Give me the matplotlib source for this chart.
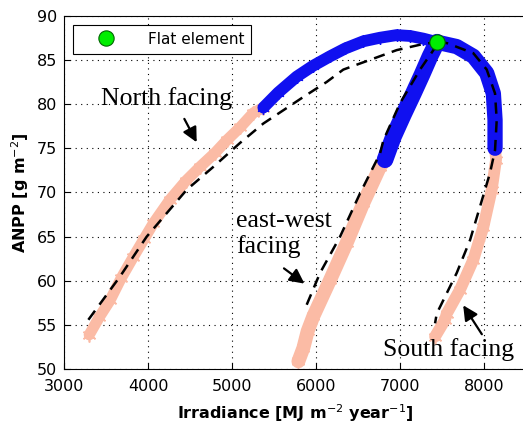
import matplotlib
matplotlib.use('Agg')
import matplotlib.pyplot as plt

# Bandas (centro de cada banda de puntos)
north_pink_x = [3300, 3420, 3548, 3680, 3825, 3950, 4063, 4262, 4450, 4619, 4800, 4937, 5100, 5254, 5373]
north_pink_y = [53.9, 55.9, 57.8, 60.3, 62.7, 64.7, 66.5, 69.2, 71.3, 72.9, 74.5, 75.9, 77.4, 79.0, 79.6]
north_blue_x = [5373, 5550, 5770, 5960, 6167, 6350, 6563, 6760, 6960, 7120, 7278, 7440]
north_blue_y = [79.6, 81.3, 83.1, 84.3, 85.4, 86.3, 87.1, 87.5, 87.8, 87.7, 87.4, 87.0]

ew_pink_x = [5790, 5849, 5900, 5968, 6167, 6365, 6563, 6762, 6830]
ew_pink_y = [50.9, 52.4, 54.3, 56.0, 60.1, 64.3, 68.8, 72.9, 73.9]
ew_blue_x = [6821, 6921, 7040, 7159, 7260, 7357, 7440]
ew_blue_y = [73.7, 76.3, 78.8, 81.2, 83.3, 85.4, 87.0]

south_blue_x = [7440, 7675, 7873, 8032, 8111, 8131, 8131]
south_blue_y = [87.0, 86.5, 85.4, 83.5, 81.2, 78.2, 75.0]
south_pink_x = [8131, 8143, 8091, 7992, 7873, 7714, 7556, 7536, 7417]
south_pink_y = [75.0, 73.7, 70.3, 66.1, 62.4, 59.0, 56.3, 55.6, 53.7]

# Curvas de ajuste (linea discontinua)
north_fit_x = [3290, 3667, 3984, 4460, 4778, 5095, 5373, 5849, 6127, 6325, 6643, 6960, 7278, 7440]
north_fit_y = [55.6, 60.5, 65.0, 70.3, 72.9, 75.6, 77.8, 80.8, 82.5, 83.9, 85.0, 86.1, 86.8, 87.0]
ew_fit_x = [5889, 6048, 6286, 6524, 6762, 6802, 7000, 7238, 7397, 7440]
ew_fit_y = [57.3, 60.9, 65.0, 69.9, 74.4, 75.9, 80.1, 83.9, 86.1, 87.0]
south_fit_x = [7440, 7556, 7873, 8032, 8131, 8151, 8131, 8071, 7952, 7833, 7675, 7556, 7437, 7417]
south_fit_y = [87.0, 86.9, 85.75, 83.9, 81.2, 78.2, 74.8, 72.2, 68.4, 64.6, 60.9, 58.6, 56.3, 55.2]

flat_x = [7440]
flat_y = [87.0]

pink = '#fbbba5'
blue = '#1010f0'
star = (6, 2, 0)

fig = plt.figure(figsize=(5.23, 4.23), dpi=100)
ax = fig.add_axes([0.1224, 0.127, 0.8834, 0.836])

# Bandas rosadas y azules
for xs, ys, lw in [(north_pink_x, north_pink_y, 8), (ew_pink_x, ew_pink_y, 10), (south_pink_x, south_pink_y, 8.5)]:
    ax.plot(xs, ys, color=pink, lw=lw, solid_capstyle='round', zorder=2)
    ax.plot(xs, ys, ls='none', marker=star, ms=10, mec=pink, mew=1.2, zorder=2)
for xs, ys, lw in [(north_blue_x, north_blue_y, 8.5), (ew_blue_x, ew_blue_y, 12), (south_blue_x, south_blue_y, 11)]:
    ax.plot(xs, ys, color=blue, lw=lw, solid_capstyle='round', zorder=3)
    ax.plot(xs, ys, ls='none', marker=star, ms=9, mec=blue, mew=1.0, zorder=3)

for xs, ys in [(north_fit_x, north_fit_y), (ew_fit_x, ew_fit_y), (south_fit_x, south_fit_y)]:
    ax.plot(xs, ys, color='black', lw=1.8, dashes=[4.5, 3], zorder=4)

ax.plot(flat_x, flat_y, ls='none', marker='o', ms=11, mfc='#00ee00', mec='#006600',
        mew=0.8, zorder=5, label='Flat element')

ax.set_xlim(3000, 8500)
ax.set_ylim(50, 90)
ax.set_xticks([3000, 4000, 5000, 6000, 7000, 8000])
ax.set_yticks([50, 55, 60, 65, 70, 75, 80, 85, 90])
ax.tick_params(direction='in', labelsize=11.5, length=4)
ax.tick_params(axis='x', pad=7)
ax.tick_params(axis='y', pad=5)
ax.grid(True, color='black', linestyle=(0, (1, 4)), linewidth=0.8)
ax.set_axisbelow(True)

ax.set_xlabel(r'Irradiance [MJ m$^{-2}$ year$^{-1}$]', fontsize=11.5, fontweight='bold', labelpad=6)
ax.set_ylabel(r'ANPP [g m$^{-2}$]', fontsize=11.5, fontweight='bold', labelpad=4)

serif = 'Liberation Serif'
ax.text(4226, 80.6, 'North facing', family=serif, fontsize=18.5, ha='center', va='center', zorder=6)
ax.text(5048, 65.3, 'east-west\nfacing', family=serif, fontsize=18.5, ha='left', va='center',
        linespacing=1.15, zorder=6)
ax.text(6798, 52.2, 'South facing', family=serif, fontsize=18.5, ha='left', va='center', zorder=6)

arrow = dict(arrowstyle='-|>', color='black', lw=1.6, mutation_scale=22)
ax.annotate('', xy=(4595, 75.4), xytext=(4417, 78.6), arrowprops=arrow)
ax.annotate('', xy=(5889, 59.5), xytext=(5592, 61.6), arrowprops=arrow)
ax.annotate('', xy=(7734, 57.5), xytext=(7992, 53.7), arrowprops=arrow)

leg = ax.legend(loc='upper left', fontsize=11, fancybox=False, edgecolor='black',
                framealpha=1, borderpad=0.45, handlelength=3.4, handletextpad=1.05,
                borderaxespad=0.6)
leg.get_frame().set_linewidth(0.8)

plt.savefig('out.png', dpi=100)
